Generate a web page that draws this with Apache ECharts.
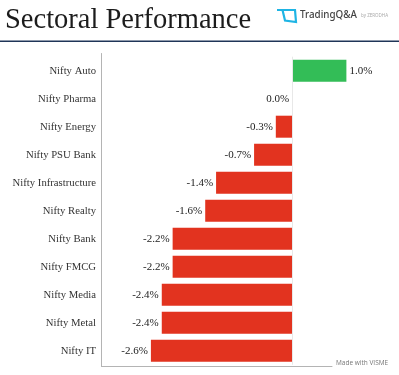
<!DOCTYPE html>
<html>
<head>
<meta charset="utf-8">
<style>
  html, body { margin: 0; padding: 0; background: #fff; }
  #chart { width: 399px; height: 375px; }
</style>
<script src="https://cdn.jsdelivr.net/npm/echarts@6/dist/echarts.min.js"></script>
</head>
<body>
<div id="chart"></div>
<script>
const sectors = ["Nifty Auto", "Nifty Pharma", "Nifty Energy", "Nifty PSU Bank", "Nifty Infrastructure", "Nifty Realty", "Nifty Bank", "Nifty FMCG", "Nifty Media", "Nifty Metal", "Nifty IT"];
const changes = [1.0, 0.0, -0.3, -0.7, -1.4, -1.6, -2.2, -2.2, -2.4, -2.4, -2.6];

const GREEN = "#33bd57";
const RED = "#e2331f";
const SERIF = "'Liberation Serif', serif";

const chart = echarts.init(document.getElementById("chart"), null, { renderer: "canvas" });

chart.setOption({
  animation: false,
  backgroundColor: "#fff",
  grid: [
    // bars
    { left: 101.5, top: 56.7, width: 230.5, height: 308 },
    // frame only, the axis lines run a bit past the rows
    { left: 101.5, top: 53.5, width: 230.5, height: 313 }
  ],
  xAxis: [
    { type: "value", gridIndex: 0, min: -3.51, max: 0.735, show: false },
    {
      type: "value", gridIndex: 1, min: 0, max: 1,
      axisLine: { show: true, onZero: false, lineStyle: { color: "#b4b4b4", width: 1 } },
      axisTick: { show: false }, axisLabel: { show: false }, splitLine: { show: false }
    }
  ],
  yAxis: [
    {
      type: "category", gridIndex: 0, data: sectors, inverse: true,
      axisLine: { show: false }, axisTick: { show: false },
      axisLabel: { margin: 5.5, fontFamily: SERIF, fontSize: 10.7, color: "#333" }
    },
    {
      type: "value", gridIndex: 1, min: 0, max: 1,
      axisLine: { show: true, onZero: false, lineStyle: { color: "#b4b4b4", width: 1 } },
      axisTick: { show: false }, axisLabel: { show: false }, splitLine: { show: false }
    }
  ],
  series: [{
    type: "bar",
    xAxisIndex: 0,
    yAxisIndex: 0,
    barWidth: 22,
    clip: false,
    data: changes.map(v => ({
      value: v,
      itemStyle: { color: v > 0 ? GREEN : RED },
      label: { position: v > 0 ? "right" : "left" }
    })),
    label: {
      show: true,
      distance: 3,
      formatter: p => p.value.toFixed(1) + "%",
      fontFamily: SERIF,
      fontSize: 11,
      color: "#222"
    },
    markLine: {
      silent: true,
      symbol: "none",
      label: { show: false },
      lineStyle: { color: "#e8e8e8", width: 1, type: "solid" },
      data: [{ xAxis: 0 }]
    }
  }],
  graphic: [
    { type: "text", left: 5, top: 6, style: { text: "Sectoral Performance", fontFamily: SERIF, fontSize: 28.5, fill: "#1c1c1c" } },
    { type: "rect", shape: { x: 0, y: 40.5, width: 399, height: 1.6 }, style: { fill: "#1f3558" } },
    { type: "polyline", shape: { points: [[277, 10], [295, 10], [296, 22], [285, 20.5], [282.5, 10]] }, style: { fill: "none", stroke: "#1eb4e4", lineWidth: 2.2 } },
    { type: "text", left: 300, top: 10, style: { text: "TradingQ&A", fontFamily: "'Noto Sans', sans-serif", fontSize: 9.8, fontWeight: 500, fill: "#444" } },
    { type: "text", left: 361, top: 13, style: { text: "by ZERODHA", fontFamily: "'Noto Sans', sans-serif", fontSize: 4.5, fill: "#aaa" } },
    { type: "text", left: 336, top: 360, style: { text: "Made with VISME", fontFamily: "'Open Sans', sans-serif", fontSize: 6.5, fill: "#777" } }
  ]
});
</script>
</body>
</html>
